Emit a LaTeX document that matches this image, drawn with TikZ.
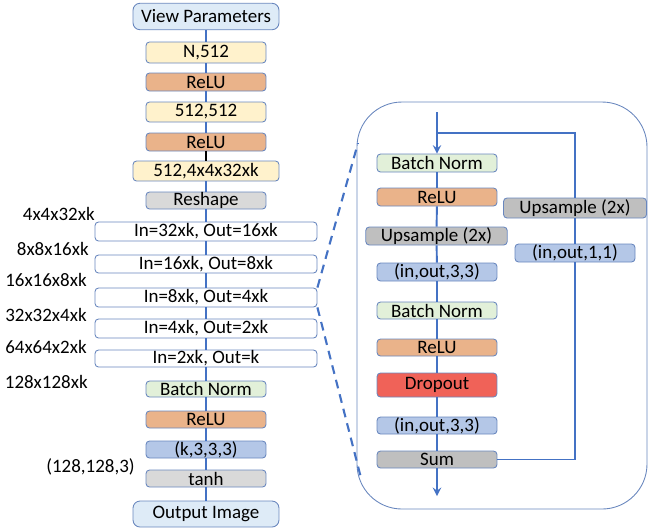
\documentclass[tikz,border=0pt]{standalone}
\usepackage{fontspec}
\setmainfont{Carlito}
\usetikzlibrary{arrows}

\definecolor{lineblue}{RGB}{68,114,196}
\definecolor{edgeblue}{RGB}{105,135,190}
\definecolor{viewfill}{RGB}{222,235,247}
\definecolor{fcfill}{RGB}{255,242,204}
\definecolor{relufill}{RGB}{234,179,138}
\definecolor{greyfill}{RGB}{217,217,217}
\definecolor{dgreyfill}{RGB}{191,191,191}
\definecolor{bnfill}{RGB}{226,240,217}
\definecolor{convfill}{RGB}{180,199,231}
\definecolor{dropfill}{RGB}{240,98,88}

\begin{document}
\begin{tikzpicture}[x=0.02cm,y=-0.02cm,font=\fontsize{10.8}{12}\selectfont,
  layer/.style={draw=edgeblue,line width=0.5pt,rounded corners=2pt,inner sep=0pt,
    minimum width=2.4cm,minimum height=0.36cm},
  endbox/.style={layer,rounded corners=4pt,fill=viewfill,minimum width=2.92cm,minimum height=0.53cm},
  fc/.style={layer,fill=fcfill},
  relu/.style={layer,fill=relufill},
  bn/.style={layer,fill=bnfill},
  conv/.style={layer,fill=convfill},
  up/.style={layer,fill=dgreyfill,minimum width=2.83cm},
  upconv/.style={layer,fill=white,minimum width=4.44cm},
  size/.style={anchor=east,inner sep=0pt},
  link/.style={lineblue,line width=1.1pt},
  zoomline/.style={lineblue,line width=1.2pt,dashed,dash pattern=on 5pt off 3.5pt}]
\useasboundingbox (0,0) rectangle (648,529);

% generator column
\node[endbox] (vp) at (206,16.5) {View Parameters};
\node[fc,minimum height=0.42cm] (fc1) at (206,52.5) {N,512};
\node[relu] (r1) at (206,82) {ReLU};
\node[fc,minimum height=0.4cm] (fc2) at (206,112) {512,512};
\node[relu] (r2) at (206,142) {ReLU};
\node[fc,minimum width=2.92cm,minimum height=0.4cm] (fc3) at (206,171) {512,4x4x32xk};
\node[layer,fill=greyfill,minimum height=0.34cm] (rs) at (206,200.5) {Reshape};
\node[upconv,minimum height=0.38cm] (u1) at (206,231.5) {In=32xk, Out=16xk};
\node[upconv] (u2) at (206,264) {In=16xk, Out=8xk};
\node[upconv,minimum height=0.38cm] (u3) at (206,297.5) {In=8xk, Out=4xk};
\node[upconv,minimum height=0.38cm] (u4) at (206,328.5) {In=4xk, Out=2xk};
\node[upconv,minimum height=0.34cm] (u5) at (206,358.5) {In=2xk, Out=k};
\node[bn,minimum height=0.32cm] (bn) at (206,389) {Batch Norm};
\node[relu,minimum height=0.34cm] (r3) at (206,419.5) {ReLU};
\node[conv,minimum height=0.34cm] (cv) at (206,449.5) {(k,3,3,3)};
\node[layer,fill=greyfill,minimum height=0.34cm] (th) at (206,478.5) {tanh};
\node[endbox,minimum height=0.52cm] (out) at (206,514) {Output Image};

\foreach \a/\b in {vp/fc1,fc1/r1,r1/fc2,fc2/r2,fc3/rs,rs/u1,u1/u2,u2/u3,u3/u4,u4/u5,u5/bn,bn/r3,r3/cv,cv/th,th/out}
  \draw[link] (\a) -- (\b);
\draw[line width=1.1pt] (r2) -- (fc3);

% feature map sizes
\node[size] (s1) at (95,214) {4x4x32xk};
\node[size] (s2) at (89,249) {8x8x16xk};
\node[size] (s3) at (87,280) {16x16x8xk};
\node[size] (s4) at (87,315) {32x32x4xk};
\node[size] (s5) at (87,347) {64x64x2xk};
\node[size] (s6) at (88,382) {128x128xk};
\node[size] (s7) at (135,467) {(128,128,3)};

% residual upsampling block
\draw[edgeblue,line width=0.5pt,rounded corners=0.9cm] (357,102) rectangle (647,509);
\node[bn] (ibn1) at (437,163) {Batch Norm};
\node[relu] (ir1) at (437,197) {ReLU};
\node[up] (iup) at (436.5,236) {Upsample (2x)};
\node[conv] (icv1) at (437,272) {(in,out,3,3)};
\node[bn,minimum height=0.34cm] (ibn2) at (437,310.5) {Batch Norm};
\node[relu,minimum height=0.34cm] (ir2) at (437,347.5) {ReLU};
\node[layer,fill=dropfill,minimum height=0.48cm] (idr) at (437,385) {Dropout};
\node[conv,minimum height=0.34cm] (icv2) at (437,425.5) {(in,out,3,3)};
\node[layer,fill=dgreyfill,minimum height=0.34cm] (isum) at (437,459.5) {Sum};
\node[up,minimum width=2.86cm,minimum height=0.4cm] (sup) at (575,208) {Upsample (2x)};
\node[conv] (scv) at (575,253) {(in,out,1,1)};

\coordinate (bin) at (437,112);
\coordinate (split) at (437,133);
\coordinate (bout) at (437,496);

\draw[link,->,>=stealth] (bin) -- (ibn1);
\foreach \a/\b in {ibn1/ir1,ir1/iup,iup/icv1,icv1/ibn2,ibn2/ir2,ir2/idr,idr/icv2,icv2/isum,sup/scv}
  \draw[link] (\a) -- (\b);
\draw[link,->,>=stealth] (isum) -- (bout);
\draw[link] (split) -| (sup);
\draw[link] (scv) |- (isum);

% zoom lines
\coordinate (zt) at (358,143);
\coordinate (zb) at (361,478);
\draw[zoomline] (u3.north east) -- (zt);
\draw[zoomline] (u3.south east) -- (zb);
\end{tikzpicture}
\end{document}
